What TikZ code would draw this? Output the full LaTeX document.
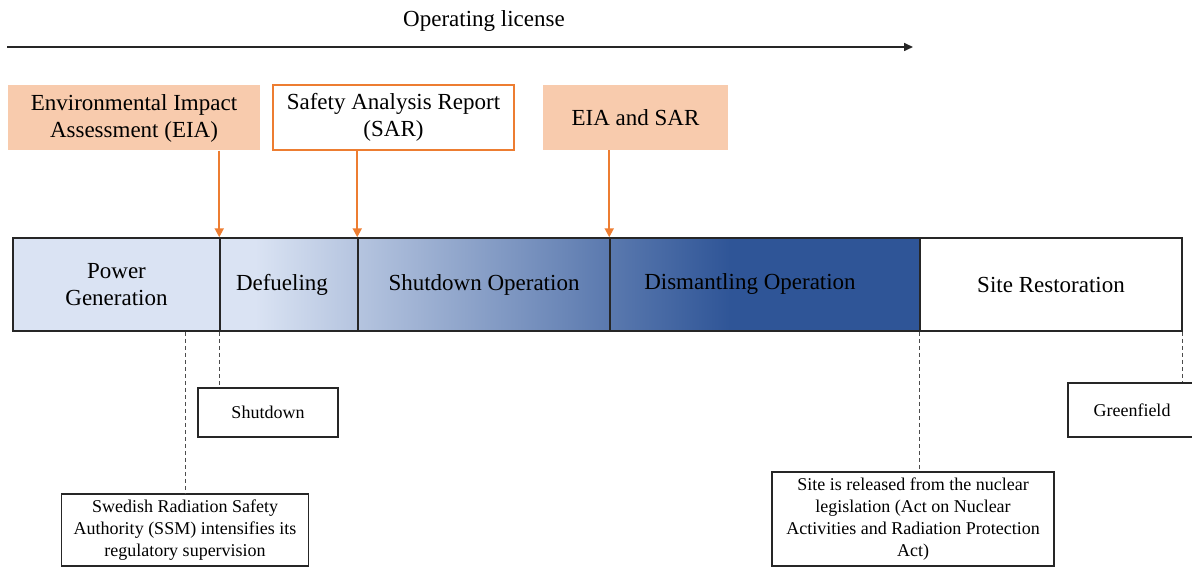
\documentclass[tikz,border=0pt]{standalone}
\usepackage{fontspec}
\setmainfont{Liberation Serif}
\usetikzlibrary{arrows.meta}
\definecolor{peach}{HTML}{F8CBAD}
\definecolor{orng}{HTML}{ED7D31}
\definecolor{lblue}{HTML}{DAE3F3}
\definecolor{dblue}{HTML}{2F5597}
\definecolor{lineg}{HTML}{262626}
\begin{document}
\begin{tikzpicture}[x=1pt,y=-1pt,
  big/.style={font=\fontsize{23}{27}\selectfont, inner sep=0pt},
  small/.style={font=\fontsize{18}{22}\selectfont, align=center, inner sep=0pt, draw=lineg, line width=1.3pt, fill=white},
  topbox/.style={big, align=center, minimum height=65pt},
  cell/.style={big, draw=lineg, line width=1.5pt, minimum height=93pt},
  oarrow/.style={draw=orng, color=orng, line width=2pt, -{Triangle[length=9pt,width=9pt]}},
  dline/.style={draw=gray!60!black, line width=0.9pt, dash pattern=on 4pt off 3pt}
]
\useasboundingbox (0,0) rectangle (1192,567);

% operating license
\node[big] (ol) at (484,21) {Operating license};
\coordinate (ls) at (7,47);
\coordinate (le) at (913,47);
\draw[line width=1.6pt, draw=lineg, -{Triangle[length=9pt,width=8pt]}] (ls) -- (le);

% top boxes
\node[topbox, fill=peach, minimum width=252pt] (eia) at (134,118) {Environmental Impact\\Assessment (EIA)};
\node[topbox, fill=white, draw=orng, line width=1.5pt, minimum width=241pt] (sar) at (393.5,117.5) {Safety Analysis Report\\(SAR)};
\node[topbox, fill=peach, minimum width=185pt] (eiasar) at (635.5,117.5) {EIA and SAR};

% bar background shading
\fill[lblue] (13,238) rectangle (255,331);
\shade[left color=lblue, right color=dblue] (255,238) rectangle (730,331);
\fill[dblue] (730,238) rectangle (920,331);

% bar cells
\node[cell, align=center, minimum width=207pt] (pg) at (116.5,284.5) {Power\\Generation};
\node[cell, minimum width=138pt] (def) at (289,284.5) {Defueling\hspace*{14pt}};
\node[cell, minimum width=252pt] (sd) at (484,284.5) {Shutdown Operation};
\node[cell, minimum width=310pt] (dis) at (765,284.5) {Dismantling Operation\hspace*{30pt}};
\node[cell, minimum width=262pt] (sr) at (1051,284.5) {Site Restoration};

% orange arrows
\draw[oarrow] (eia.south -| def.north west) -- (def.north west);
\draw[oarrow] (sar.south -| sd.north west) -- (sd.north west);
\draw[oarrow] (eiasar.south -| dis.north west) -- (dis.north west);

% bottom boxes
\node[small, minimum width=140pt, minimum height=49pt] (shut) at (268,412.5) {Shutdown};
\node[small, minimum width=247pt, minimum height=72pt] (ssm) at (185,530) {Swedish Radiation Safety\\Authority (SSM) intensifies its\\regulatory supervision};
\node[small, minimum width=282pt, minimum height=94pt] (site) at (913,519) {Site is released from the nuclear\\legislation (Act on Nuclear\\Activities and Radiation Protection\\Act)};
\node[small, minimum width=128pt, minimum height=54pt] (green) at (1132,410) {Greenfield};

% dashed connectors
\draw[dline] (ssm.north |- pg.south) -- (ssm.north);
\draw[dline] (def.south west) -- (def.south west |- shut.north);
\draw[dline] (sr.south west) -- (sr.south west |- site.north);
\draw[dline] (sr.south east) -- (sr.south east |- green.north);
\end{tikzpicture}
\end{document}
